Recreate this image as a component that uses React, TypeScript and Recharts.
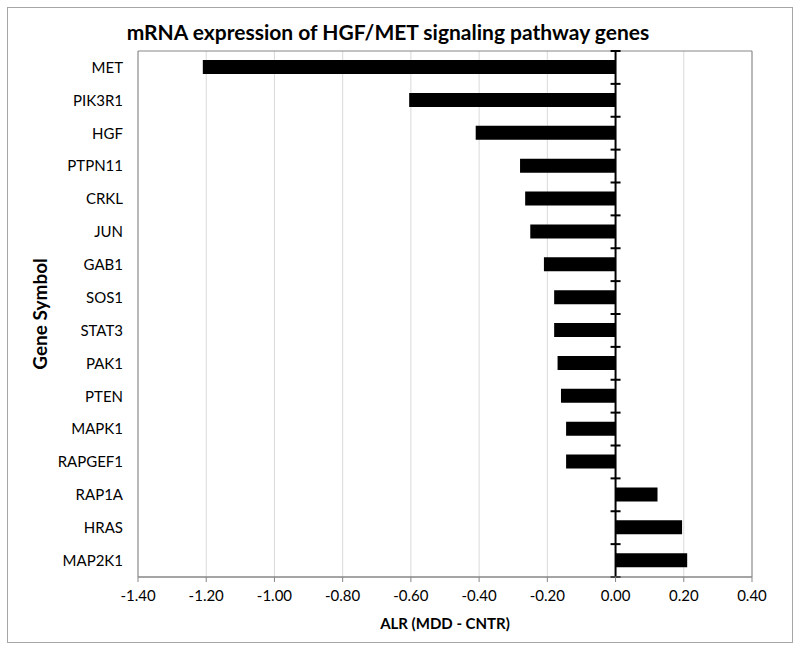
import { BarChart, Bar, XAxis, YAxis, CartesianGrid, ReferenceLine, ReferenceArea } from 'recharts';

// gene symbols, top to bottom
const genes = [
  'MET', 'PIK3R1', 'HGF', 'PTPN11', 'CRKL', 'JUN', 'GAB1', 'SOS1',
  'STAT3', 'PAK1', 'PTEN', 'MAPK1', 'RAPGEF1', 'RAP1A', 'HRAS', 'MAP2K1',
];
// ALR (MDD - CNTR)
const alr = [
  -1.21, -0.605, -0.41, -0.28, -0.265, -0.25, -0.21, -0.18,
  -0.18, -0.17, -0.16, -0.145, -0.145, 0.123, 0.195, 0.21,
];
const xTicks = [-1.4, -1.2, -1.0, -0.8, -0.6, -0.4, -0.2, 0, 0.2, 0.4];

const data = genes.map((gene, i) => ({ gene, alr: alr[i] }));

const FONT = 'Lato, "Open Sans", sans-serif';

// zero line with small cross marks between categories (Excel style axis)
const ZeroLine = (props: any) => {
  const { x1, y1, x2, y2 } = props;
  const n = genes.length;
  const marks = [];
  for (let i = 0; i <= n; i++) {
    const y = y1 + ((y2 - y1) * i) / n;
    marks.push(<line key={i} x1={x1 - 5} x2={x1 + 5} y1={y} y2={y} stroke="#000" strokeWidth={2} />);
  }
  return (
    <g>
      <line x1={x1} y1={y1} x2={x2} y2={y2} stroke="#000" strokeWidth={2} />
      {marks}
    </g>
  );
};

export default function App() {
  return (
    <div style={{ position: 'absolute', left: 0, top: 0, width: 800, height: 650, background: '#fff', fontFamily: FONT }}>
      <div
        style={{
          position: 'absolute', left: 7, top: 7, width: 786, height: 636,
          border: '1px solid #a6a6a6', boxSizing: 'border-box',
        }}
      />
      <div
        style={{
          position: 'absolute', left: 0, top: 19, width: 776, textAlign: 'center',
          fontSize: 21, fontWeight: 'bold', color: '#000',
        }}
      >
        mRNA expression of HGF/MET signaling pathway genes
      </div>
      <div style={{ position: 'absolute', left: 0, top: 0 }}>
        <BarChart
          width={800}
          height={650}
          data={data}
          layout="vertical"
          margin={{ top: 51, right: 48, bottom: 43, left: 0 }}
          barCategoryGap={0}
        >
          <CartesianGrid horizontal={false} stroke="#d9d9d9" />
          <XAxis
            type="number"
            domain={[-1.4, 0.4]}
            ticks={xTicks}
            tickFormatter={(v: number) => v.toFixed(2)}
            axisLine={{ stroke: '#868686' }}
            tickLine={{ stroke: '#868686' }}
            tickSize={5}
            tickMargin={8}
            height={30}
            tick={{ fill: '#000', fontSize: 15, fontFamily: FONT }}
            label={{
              value: 'ALR (MDD - CNTR)', position: 'bottom', offset: 11,
              style: { fontWeight: 'bold', fontSize: 15, fill: '#000', fontFamily: FONT },
            }}
          />
          <YAxis
            type="category"
            dataKey="gene"
            width={138}
            axisLine={false}
            tickLine={false}
            tickMargin={9}
            tick={{ fill: '#000', fontSize: 15, fontFamily: FONT }}
            label={{
              value: 'Gene Symbol', angle: -90, position: 'insideLeft', offset: 40,
              style: { fontWeight: 'bold', fontSize: 19, fill: '#000', fontFamily: FONT, textAnchor: 'middle' },
            }}
          />
          <ReferenceArea x1={-1.4} x2={0.4} fill="none" stroke="#868686" strokeWidth={1} fillOpacity={0} />
          <Bar dataKey="alr" fill="#000" barSize={14} isAnimationActive={false} />
          <ReferenceLine x={0} shape={ZeroLine} />
        </BarChart>
      </div>
    </div>
  );
}
